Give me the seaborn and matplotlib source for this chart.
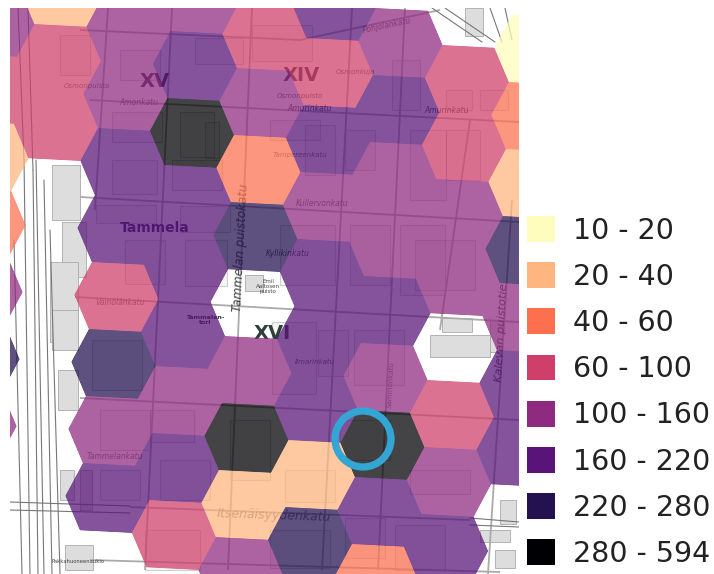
import numpy as np
import pandas as pd
import seaborn as sns
import matplotlib.pyplot as plt
from matplotlib.patches import Patch, Rectangle, Circle
from matplotlib.path import Path

# luokat ja värit
BIN_LABELS = ['10 - 20', '20 - 40', '40 - 60', '60 - 100',
              '100 - 160', '160 - 220', '220 - 280', '280 - 594']
BIN_COLORS = ['#fefdbd', '#feb57f', '#fc7050', '#cf3f6a',
              '#8f2a80', '#581478', '#241150', '#000004']
HEX_ALPHA = 0.74

# hexagon classes per grid column, rows -2 ... 6 (None = no hexagon)
FIRST_ROW = -2
col_m3 = [4, 3, 1, 2, 4, 6, 4, None, None]
col_m2 = [1, 3, 3, None, None, None, None, None, None]
col_m1 = [4, 4, 5, 5, 3, 6, 4, 5, None]
col_0 = [4, 5, 7, 5, 5, 5, 4, 5, 3]
col_1 = [3, 4, 2, 6, None, 4, 7, 1, 4]
col_2 = [5, 3, 5, 4, 5, 5, 5, 1, 6]
col_3 = [4, 5, 4, 4, 5, 4, 7, 5, 2]
col_4 = [None, 3, 3, 4, 4, None, 3, 4, 5]
col_5 = [0, 2, 1, 6, 4, 5, 5, None, None]
COLUMNS = {-3: col_m3, -2: col_m2, -1: col_m1, 0: col_0, 1: col_1,
           2: col_2, 3: col_3, 4: col_4, 5: col_5}

# hex grid in image pixels
ORIGIN = np.array([192.0, 133.0])
STEP_COL = np.array([68.0, 3.5])
STEP_ROW = np.array([-3.0, 67.0])
RIGHT_FRAC = 0.6176

# kartan kadut (x0, y0, x1, y1)
streets = [
    (80, 30, 300, 40), (300, 40, 440, 10), (90, 100, 519, 122), (80, 197, 519, 222),
    (75, 297, 519, 322), (80, 398, 519, 420), (130, 507, 470, 520), (90, 560, 500, 572),
    (108, 8, 95, 210), (172, 8, 145, 570), (252, 8, 228, 570), (352, 8, 322, 570),
    (405, 8, 378, 570), (470, 120, 440, 330), (512, 200, 488, 574),
]
rails = [
    (18, 8, 24, 160), (24, 160, 30, 574), (28, 8, 33, 170), (33, 170, 38, 574),
    (36, 160, 44, 574), (44, 180, 52, 574), (50, 230, 60, 574), (14, 240, 22, 574),
    (432, 8, 482, 42), (445, 8, 495, 42), (490, 8, 502, 42), (505, 8, 512, 40),
    (10, 502, 130, 506), (10, 510, 130, 513), (470, 518, 519, 522), (470, 525, 519, 527),
]
# rakennukset (x, y, w, h)
grey_blocks = [
    (52, 165, 28, 55), (62, 222, 24, 55), (50, 262, 28, 80), (52, 310, 26, 40),
    (58, 370, 20, 40), (60, 470, 14, 30), (65, 545, 28, 25), (465, 8, 18, 28),
    (430, 335, 60, 22), (442, 318, 30, 14), (490, 320, 12, 32), (480, 530, 30, 12),
    (500, 500, 16, 24), (495, 550, 20, 18), (245, 275, 18, 16), (80, 470, 12, 40),
]
outline_blocks = [
    (60, 35, 30, 40), (120, 50, 40, 30), (195, 38, 48, 26), (112, 112, 50, 30), (112, 160, 45, 34),
    (180, 112, 34, 45), (205, 122, 14, 36), (172, 160, 50, 30), (125, 240, 40, 44), (185, 240, 42, 46),
    (96, 205, 60, 18), (180, 206, 50, 26), (252, 25, 60, 36), (270, 120, 50, 20), (305, 125, 30, 50),
    (345, 130, 30, 40), (392, 60, 28, 50), (410, 130, 36, 70), (446, 90, 26, 20), (480, 90, 28, 20),
    (446, 130, 34, 50), (350, 225, 40, 60), (400, 225, 45, 70), (280, 225, 55, 60), (318, 330, 30, 46),
    (272, 322, 44, 72), (354, 330, 50, 55), (415, 240, 60, 50), (92, 340, 50, 50), (100, 410, 50, 40),
    (150, 410, 44, 32), (160, 460, 50, 40), (100, 470, 40, 30), (230, 420, 40, 60), (285, 470, 50, 32),
    (340, 420, 50, 40), (345, 518, 40, 40), (395, 525, 50, 45), (145, 530, 55, 40), (270, 530, 60, 38),
    (410, 470, 60, 24),
]
map_labels = [
    ('XV', 155, 81, 14, 0, 'bold', 'normal', '#3d2a45'),
    ('XIV', 301, 75, 14, 0, 'bold', 'normal', '#3d2a45'),
    ('XVI', 272, 333, 14, 0, 'bold', 'normal', '#2f3f3a'),
    ('Tammela', 155, 228, 10, 0, 'bold', 'normal', '#3d2060'),
    ('Tammelan puistokatu', 241, 248, 8.6, 87, 'normal', 'italic', '#444444'),
    ('Itsenäisyydenkatu', 274, 515, 9, -2, 'normal', 'italic', '#777777'),
    ('Kalevan puistotie', 502, 333, 8.2, 87, 'normal', 'italic', '#444444'),
    ('Amonkatu', 139, 102, 5.5, 0, 'normal', 'italic', '#666666'),
    ('Osmonpuisto', 87, 86, 5, 0, 'normal', 'italic', '#666666'),
    ('Osmonpuisto', 300, 96, 5, 0, 'normal', 'italic', '#555555'),
    ('Osmonkuja', 355, 72, 5, 0, 'normal', 'italic', '#666666'),
    ('Amurinkatu', 310, 108, 5.5, 0, 'normal', 'italic', '#444444'),
    ('Amurinkatu', 447, 110, 5.5, 0, 'normal', 'italic', '#444444'),
    ('Pohjolankatu', 387, 25, 5.5, 12, 'normal', 'italic', '#666666'),
    ('Tampereenkatu', 300, 155, 5, 0, 'normal', 'italic', '#666666'),
    ('Kullervonkatu', 322, 203, 5.5, 0, 'normal', 'italic', '#666666'),
    ('Kyllikinkatu', 288, 253, 5.5, 0, 'normal', 'italic', '#444444'),
    ('Väinölänkatu', 120, 302, 5.5, 0, 'normal', 'italic', '#666666'),
    ('Tammelan-\ntori', 205, 320, 4.5, 0, 'bold', 'normal', '#333333'),
    ('Emil\nAaltosen\npuisto', 268, 286, 4, 0, 'normal', 'normal', '#444444'),
    ('Ilmarinkatu', 315, 362, 5, 0, 'normal', 'italic', '#555555'),
    ('Tammelankatu', 115, 456, 5.5, 0, 'normal', 'italic', '#666666'),
    ('Sammonkatu', 391, 385, 5, 87, 'normal', 'italic', '#666666'),
    ('Pakkahuoneenaukio', 78, 561, 3.8, 0, 'normal', 'normal', '#444444'),
]

# rengas kuvassa
RING_CENTER = (363, 439)
RING_RADIUS = 28


def fade_layer(img, dpi):
    # koko kerros kerralla läpinäkyväksi, ei saumoja kuusikulmioiden väliin
    out = img.copy()
    out[..., 3] = np.clip(out[..., 3] * 1.35, 0, 1) * HEX_ALPHA
    return out, 0, 0


sns.set_theme(style='white')
plt.rcParams['font.family'] = ['DejaVu Sans']

rows = []
for col, classes in COLUMNS.items():
    for k, cls in enumerate(classes):
        if cls is None:
            continue
        row = FIRST_ROW + k + (col % 2) / 2
        pos = ORIGIN + col * STEP_COL + row * STEP_ROW
        rows.append({'x': pos[0], 'y': pos[1], 'bin': BIN_LABELS[cls]})
df_hex = pd.DataFrame(rows)

# kuusikulmion kärjet ruudukon vektoreista (markerin y on ylöspäin)
right = RIGHT_FRAC * STEP_COL
top_right = (1 - RIGHT_FRAC) * STEP_COL - STEP_ROW / 2
bottom_right = (1 - RIGHT_FRAC) * STEP_COL + STEP_ROW / 2
verts = np.array([right, bottom_right, -top_right, -right, -bottom_right, top_right, right])
verts[:, 1] *= -1
hex_marker = Path(verts, closed=True)
hex_size = (2 * np.abs(verts).max() * 72 / 100) ** 2

fig = plt.figure(figsize=(7.14, 5.74), dpi=100)
ax = fig.add_axes([10 / 714, 0, 509 / 714, 566 / 574])

for x, y, w, h in grey_blocks:
    ax.add_patch(Rectangle((x, y), w, h, fc='#dddddd', ec='#aaaaaa', lw=0.6, zorder=1))
for x, y, w, h in outline_blocks:
    ax.add_patch(Rectangle((x, y), w, h, fc='#0000000a', ec='#55555540', lw=0.8, zorder=1))
for x0, y0, x1, y1 in streets:
    ax.plot([x0, x1], [y0, y1], color='#aaaaaa', lw=1.3, zorder=1.2, solid_capstyle='butt')
for x0, y0, x1, y1 in rails:
    ax.plot([x0, x1], [y0, y1], color='#777777', lw=0.8, zorder=1.3)
for text, x, y, size, rot, weight, style, color in map_labels:
    ax.text(x, y, text, fontsize=size, rotation=rot, fontweight=weight, fontstyle=style,
            color=color, ha='center', va='center', zorder=2, linespacing=1.0)

sns.scatterplot(data=df_hex, x='x', y='y', hue='bin', hue_order=BIN_LABELS,
                palette=dict(zip(BIN_LABELS, BIN_COLORS)), marker=hex_marker, s=hex_size,
                linewidth=0, legend=False, ax=ax, zorder=3)
ax.collections[-1].set_agg_filter(fade_layer)
ax.set_xlim(10, 519)
ax.set_ylim(574, 8)
ax.axis('off')

ax.add_patch(Circle(RING_CENTER, RING_RADIUS, fill=False, ec='#33a6d6', lw=5.2, zorder=5))

handles = [Patch(fc=c, ec='none', label=l) for c, l in zip(BIN_COLORS, BIN_LABELS)]
fig.legend(handles=handles, loc='upper left', bbox_to_anchor=(527 / 714, 1 - 216 / 574),
           frameon=False, fontsize=20.5, handlelength=0.98, handleheight=1.02,
           handletextpad=0.62, labelspacing=0.615, borderpad=0, borderaxespad=0,
           labelcolor='#222222')

plt.savefig('out.png', dpi=100)
